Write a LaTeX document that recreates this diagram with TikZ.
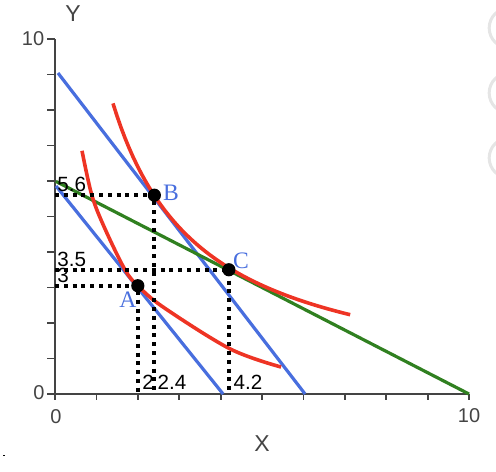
\documentclass[tikz,border=0pt]{standalone}
\usepackage{fontspec}
\setmainfont{Liberation Sans}
\newfontfamily\serifabc{Liberation Serif}
\definecolor{axisgray}{RGB}{68,68,68}
\definecolor{bblue}{RGB}{72,110,222}
\definecolor{rred}{RGB}{238,52,36}
\definecolor{ggreen}{RGB}{48,128,32}
\begin{document}
\begin{tikzpicture}[x=20.7pt,y=17.75pt]
\tikzset{
  axisline/.style={line width=1pt, draw=axisgray},
  tickmark/.style={line width=0.9pt, draw=axisgray},
  ticklab/.style={text=axisgray, font=\fontsize{10}{10}\selectfont, inner sep=0pt},
  axlab/.style={text=axisgray, font=\fontsize{11.5}{12}\selectfont, inner sep=0pt},
  annot/.style={text=black, font=\fontsize{10.3}{10}\selectfont, inner sep=0pt},
  budget/.style={line width=1.6pt, draw=bblue},
  budgetg/.style={line width=1.6pt, draw=ggreen},
  indiff/.style={line width=1.8pt, draw=rred},
  guide/.style={line width=2pt, draw=black, dash pattern=on 2pt off 2.4pt},
  ptdot/.style={circle, fill=black, inner sep=0pt, minimum size=6.6pt},
  ptlab/.style={text=bblue, font=\serifabc\fontsize{11.8}{12}\selectfont, inner sep=0pt},
  uibtn/.style={circle, minimum size=20pt, draw=black!10, line width=1.5pt, fill=white, inner sep=0pt},
}
\useasboundingbox (-1.329,-2.197) rectangle (10.652,11.099);

% UI artefacts at right edge
\node[uibtn] (u1) at (10.97,10.31) {};
\node[uibtn] (u2) at (10.97,8.48) {};
\node[uibtn] (u3) at (10.97,6.65) {};
\fill[black] (-1.268,-1.758) rectangle (-1.22,-1.71);

% axes
\coordinate (O) at (0,0);
\coordinate (Xend) at (10,0);
\coordinate (Yend) at (0,10);
\draw[axisline] (Yend) -- (O) -- (Xend);
\foreach \i in {0,...,10} {
  \draw[tickmark] (\i,0) -- (\i,-0.17);
  \draw[tickmark] (0,\i) -- (-0.19,\i);
}
\node[ticklab] (y10) at (-0.531,10.0) {10};
\node[ticklab] (y0) at (-0.39,0.03) {0};
\node[ticklab] (x0) at (0.024,-0.64) {0};
\node[ticklab] (x10) at (10.0,-0.62) {10};
\node[axlab] (ylab) at (0.435,10.73) {Y};
\node[axlab] (xlab) at (5.0,-1.408) {X};

% budget lines
\coordinate (b1s) at (0.072,9.042);
\coordinate (b1e) at (6.04,0);
\coordinate (b2s) at (0.024,5.86);
\coordinate (b2e) at (4.06,0);
\coordinate (gs) at (0.02,5.99);
\coordinate (ge) at (10,0);
\draw[budget] (b1s) -- (b1e);
\draw[budget] (b2s) -- (b2e);
\draw[budgetg] (gs) -- (ge);

% indifference curves
\draw[indiff] plot[smooth, tension=0.55] coordinates
  {(0.652,6.85) (0.894,5.58) (1.22,4.62) (1.69,3.5) (2.0,3.05) (2.61,2.45) (4.23,1.27) (5.46,0.76)};
\draw[indiff] plot[domain=1.40:7.13, samples=60] (\x,{17.6/(\x+0.75)});

% points
\coordinate (Ax) at (2,0);   \coordinate (Ay) at (0,3.05);
\coordinate (Bx) at (2.4,0); \coordinate (By) at (0,5.6);
\coordinate (Cx) at (4.2,0); \coordinate (Cy) at (0,3.5);
\coordinate (Ac) at (2,3.05);
\coordinate (Bc) at (2.4,5.6);
\coordinate (Cc) at (4.2,3.5);
\draw[guide] (Ay) -- (Ac) -- (Ax);
\draw[guide] (By) -- (Bc) -- (Bx);
\draw[guide] (Cy) -- (Cc) -- (Cx);
\node[ptdot] (A) at (Ac) {};
\node[ptdot] (B) at (Bc) {};
\node[ptdot] (C) at (Cc) {};
\node[ptlab] (Alab) at (1.763,2.648) {A};
\node[ptlab] (Blab) at (2.80,5.66) {B};
\node[ptlab] (Clab) at (4.493,3.746) {C};

% value annotations
\node[annot, anchor=west] (v56) at (0.048,5.89) {5.6};
\node[annot, anchor=west] (v35) at (0.048,3.79) {3.5};
\node[annot, anchor=west] (v3) at (0.048,3.34) {3};
\node[annot] (v2) at (2.246,0.34) {2};
\node[annot] (v24) at (2.826,0.34) {2.4};
\node[annot] (v42) at (4.662,0.34) {4.2};
\end{tikzpicture}
\end{document}
